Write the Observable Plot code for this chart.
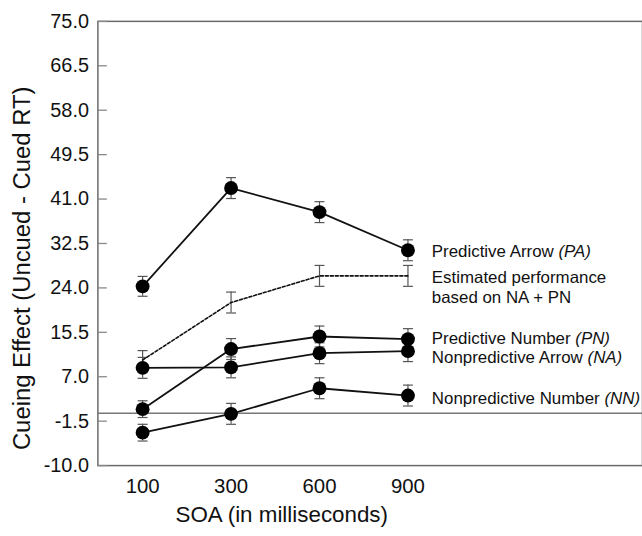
<!DOCTYPE html>
<html><head><meta charset="utf-8">
<script src="https://cdn.jsdelivr.net/npm/d3@7"></script>
<script src="https://cdn.jsdelivr.net/npm/@observablehq/plot@0.6"></script>
<style>
html,body{margin:0;padding:0;background:#fff;overflow:hidden}
#chart{width:642px;height:536px;overflow:hidden}
</style>
</head><body><div id="chart"></div>
<script>
// ---- data ----
const soa = [100, 300, 600, 900];
const yTicks = [-10, -1.5, 7, 15.5, 24, 32.5, 41, 49.5, 58, 66.5, 75];

const paMean = [24.3, 43.1, 38.5, 31.2];
const paErr  = [1.9, 2.0, 2.0, 2.0];
const estMean = [10.2, 21.2, 26.3, 26.3];
const estErr  = [1.8, 2.0, 2.0, 2.0];
const pnMean = [0.8, 12.3, 14.7, 14.2];
const pnErr  = [1.6, 2.0, 2.0, 2.0];
const naMean = [8.7, 8.8, 11.5, 11.9];
const naErr  = [2.0, 2.0, 2.0, 2.0];
const nnMean = [-3.7, -0.1, 4.8, 3.4];
const nnErr  = [1.6, 2.0, 2.0, 2.0];

const seriesKeys = ["PA", "EST", "PN", "NA", "NN"];
const seriesLabels = ["Predictive Arrow (PA)", "Estimated performance\nbased on NA + PN", "Predictive Number (PN)", "Nonpredictive Arrow (NA)", "Nonpredictive Number (NN)"];
const xTitle = "SOA (in milliseconds)";
const yTitle = "Cueing Effect (Uncued - Cued RT)";

// ---- build table ----
const means = [paMean, estMean, pnMean, naMean, nnMean];
const errs = [paErr, estErr, pnErr, naErr, nnErr];
const rows = [];
seriesKeys.forEach((k, s) => soa.forEach((x, i) => rows.push({series: k, soa: x, mean: means[s][i], lo: means[s][i] - errs[s][i], hi: means[s][i] + errs[s][i]})));
const caps = rows.flatMap(d => [{series: d.series, soa: d.soa, v: d.lo}, {series: d.series, soa: d.soa, v: d.hi}]);
const solid = rows.filter(d => d.series !== "EST");
const est = rows.filter(d => d.series === "EST");
// label layout (vertical nudges to keep labels apart)
const labelDy = {PA: 0, EST: 11, PN: -2, NA: 5, NN: 2};
const labels = seriesKeys.map((k, s) => ({series: k, soa: soa[soa.length - 1], mean: means[s][soa.length - 1], text: seriesLabels[s], dy: labelDy[k]}));

const capSymbol = {draw(ctx, size) { const r = Math.sqrt(size / Math.PI); ctx.moveTo(-r, 0); ctx.lineTo(r, 0); }};
const inwardTick = {draw(ctx, size) { const r = Math.sqrt(size / Math.PI); ctx.moveTo(0, 0); ctx.lineTo(r, 0); }};
const font = "'Liberation Sans', Arial, Helvetica, sans-serif";

const chart = Plot.plot({
  width: 646, height: 536,
  marginLeft: 98, marginRight: 0, marginTop: 21, marginBottom: 68,
  style: {fontFamily: font, background: "white", color: "#111"},
  x: {type: "point", domain: soa, range: [142, 410], padding: 0},
  y: {domain: [-10, 75]},
  marks: [
    Plot.frame({stroke: "#6a6a6a", strokeWidth: 1.5}),
    Plot.ruleY([0], {stroke: "#777", strokeWidth: 1.5}),
    Plot.axisY(yTicks, {tickSize: 0, tickPadding: 9, fontSize: 20, tickFormat: d => d.toFixed(1), label: null, fill: "#111"}),
    Plot.dot(yTicks, {y: d => d, frameAnchor: "left", r: 9, symbol: inwardTick, fill: "none", stroke: "#888", strokeWidth: 1.3}),
    Plot.axisX(soa, {tickSize: 0, tickPadding: 13, fontSize: 20.5, label: null, fill: "#111"}),
    Plot.ruleX(rows, {x: "soa", y1: "lo", y2: "hi", stroke: "#555", strokeWidth: 1.2}),
    Plot.dot(caps, {x: "soa", y: "v", r: 5, symbol: capSymbol, fill: "none", stroke: "#555", strokeWidth: 1.2}),
    Plot.line(est, {x: "soa", y: "mean", stroke: "#111", strokeWidth: 1.6, strokeDasharray: "3,2"}),
    Plot.line(solid, {x: "soa", y: "mean", z: "series", stroke: "#111", strokeWidth: 1.8}),
    Plot.dot(solid, {x: "soa", y: "mean", r: 7, fill: "#000", stroke: "none"}),
    ...labels.map(l => Plot.text([l], {x: "soa", y: "mean", text: "text", dx: 24, dy: l.dy, textAnchor: "start", fontSize: 17, fill: "#111", lineHeight: 1.2})),
    Plot.text([yTitle], {frameAnchor: "left", textAnchor: "middle", dx: -76, dy: 25, rotate: -90, fontSize: 24, fill: "#111"}),
    Plot.text([xTitle], {frameAnchor: "bottom", textAnchor: "middle", dx: -89, dy: 57, fontSize: 22.5, fill: "#111"})
  ]
});

// italicise abbreviations in the labels
chart.querySelectorAll("text").forEach(t => {
  if (t.querySelector("tspan")) return;
  const m = t.textContent.match(/^(.*?)(\((PA|PN|NA|NN)\))$/);
  if (!m) return;
  t.textContent = "";
  const a = document.createElementNS("http://www.w3.org/2000/svg", "tspan");
  a.textContent = m[1];
  const b = document.createElementNS("http://www.w3.org/2000/svg", "tspan");
  b.textContent = m[2];
  b.setAttribute("font-style", "italic");
  t.append(a, b);
});
document.getElementById("chart").append(chart);
</script></body></html>
